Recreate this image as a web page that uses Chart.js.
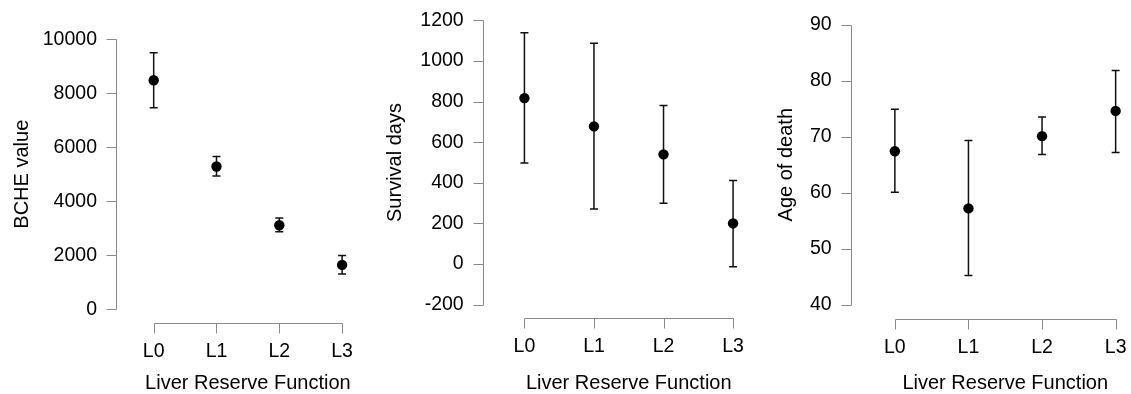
<!DOCTYPE html>
<html>
<head>
<meta charset="utf-8">
<script src="https://cdn.jsdelivr.net/npm/chart.js@4.4.0/dist/chart.umd.min.js"></script>
<style>
  body { margin: 0; background: #fff; overflow: hidden; width: 1131px; height: 394px; position: relative; }
  .panel { position: absolute; top: 0; }
</style>
</head>
<body>
<canvas id="bche" class="panel" width="385" height="394" style="left:0px"></canvas>
<canvas id="survival" class="panel" width="410" height="394" style="left:370px"></canvas>
<canvas id="age" class="panel" width="405" height="394" style="left:760px"></canvas>
<script>
// Liver reserve function groups
const categories = ['L0', 'L1', 'L2', 'L3'];

// BCHE value: mean and error bar ends
const bcheMean = [8480, 5285, 3110, 1640];
const bcheLow = [7460, 4930, 2865, 1300];
const bcheHigh = [9500, 5655, 3380, 1990];
const bcheTicks = [0, 2000, 4000, 6000, 8000, 10000];

// Survival days
const survivalMean = [817, 678, 540, 200];
const survivalLow = [497, 271, 299, -13];
const survivalHigh = [1139, 1087, 781, 412];
const survivalTicks = [-200, 0, 200, 400, 600, 800, 1000, 1200];

// Age of death
const ageMean = [67.4, 57.2, 70.1, 74.6];
const ageLow = [60.1, 45.2, 66.8, 67.2];
const ageHigh = [74.9, 69.3, 73.5, 81.8];
const ageTicks = [40, 50, 60, 70, 80, 90];

const FONT = 'Liberation Sans, Arial, Helvetica, sans-serif';
const AXIS_GREY = '#8a8a8a';

// draws the whiskers under the points
const errorBars = {
    id: 'errorBars',
    beforeDatasetsDraw(chart) {
        const { ctx, scales: { x, y } } = chart;
        const ds = chart.data.datasets[0];
        ctx.save();
        ctx.strokeStyle = '#111';
        ctx.lineWidth = 1.5;
        ds.low.forEach((lo, i) => {
            const px = x.getPixelForValue(i);
            const top = y.getPixelForValue(ds.high[i]);
            const bot = y.getPixelForValue(lo);
            ctx.beginPath();
            ctx.moveTo(px, top); ctx.lineTo(px, bot);
            ctx.moveTo(px - 4, top); ctx.lineTo(px + 4, top);
            ctx.moveTo(px - 4, bot); ctx.lineTo(px + 4, bot);
            ctx.stroke();
        });
        ctx.restore();
    }
};

// R style axes: lines only span first..last tick, ticks point outward
const rAxes = {
    id: 'rAxes',
    afterDraw(chart) {
        const { ctx, chartArea, scales: { x, y } } = chart;
        ctx.save();
        ctx.strokeStyle = AXIS_GREY;
        ctx.lineWidth = 1;
        ctx.beginPath();
        const xl = Math.round(chartArea.left) + 0.5;
        const yp = y.ticks.map(t => Math.round(y.getPixelForValue(t.value)) + 0.5);
        ctx.moveTo(xl, Math.min(...yp)); ctx.lineTo(xl, Math.max(...yp));
        yp.forEach(p => { ctx.moveTo(xl, p); ctx.lineTo(xl - 10, p); });
        const yb = Math.round(chartArea.bottom) + 0.5;
        const xp = x.ticks.map(t => Math.round(x.getPixelForValue(t.value)) + 0.5);
        ctx.moveTo(Math.min(...xp), yb); ctx.lineTo(Math.max(...xp), yb);
        xp.forEach(p => { ctx.moveTo(p, yb); ctx.lineTo(p, yb + 10); });
        ctx.stroke();
        ctx.restore();
    }
};

function makePanel(id, p) {
    const ctx = document.getElementById(id);
    return new Chart(ctx, {
        type: 'scatter',
        data: {
            datasets: [{
                data: p.mean.map((v, i) => ({ x: i, y: v })),
                low: p.low,
                high: p.high,
                pointRadius: 5.2,
                pointBackgroundColor: '#000',
                pointBorderWidth: 0
            }]
        },
        options: {
            responsive: false,
            animation: false,
            events: [],
            layout: { padding: { top: p.top, right: p.right, left: 0, bottom: 0 } },
            plugins: { legend: { display: false }, tooltip: { enabled: false } },
            scales: {
                x: {
                    type: 'linear',
                    min: -0.6,
                    max: 3.6,
                    grid: { display: false },
                    border: { display: false },
                    afterBuildTicks: s => { s.ticks = categories.map((c, i) => ({ value: i })); },
                    afterFit: s => {
                        s.height = 394 - p.bottom;
                        s.paddingLeft = 0;
                        s.paddingRight = 0;
                    },
                    ticks: {
                        padding: 9,
                        color: '#000',
                        font: { family: FONT, size: 19.5 },
                        maxRotation: 0,
                        callback: v => categories[v]
                    },
                    title: {
                        display: true,
                        text: 'Liver Reserve Function',
                        color: '#000',
                        font: { family: FONT, size: 20, lineHeight: 1.1 },
                        padding: { top: 0, bottom: 0 }
                    }
                },
                y: {
                    min: p.min,
                    max: p.max,
                    grid: { display: false },
                    border: { display: false },
                    afterBuildTicks: s => { s.ticks = p.ticks.map(v => ({ value: v })); },
                    afterFit: s => {
                        s.width = p.axisW;
                        s.paddingTop = 0;
                        s.paddingBottom = 0;
                    },
                    ticks: {
                        padding: 11,
                        color: '#000',
                        font: { family: FONT, size: 19.5 },
                        callback: v => String(v)
                    },
                    title: {
                        display: true,
                        text: p.title,
                        color: '#000',
                        font: { family: FONT, size: 20, lineHeight: 1.1 },
                        padding: { top: p.titlePad, bottom: 0 }
                    }
                }
            }
        },
        plugins: [errorBars, rAxes]
    });
}

makePanel('bche', {
    mean: bcheMean, low: bcheLow, high: bcheHigh, ticks: bcheTicks,
    min: -500, max: 10500, top: 25.7, bottom: 322.7, right: 4.4,
    axisW: 116, title: 'BCHE value', titlePad: 11
});
makePanel('survival', {
    mean: survivalMean, low: survivalLow, high: survivalHigh, ticks: survivalTicks,
    min: -267, max: 1267, top: 6.7, bottom: 318.3, right: 5.1,
    axisW: 112.7, title: 'Survival days', titlePad: 14
});
makePanel('age', {
    mean: ageMean, low: ageLow, high: ageHigh, ticks: ageTicks,
    min: 37.4, max: 92.6, top: 10.1, bottom: 319.3, right: 4,
    axisW: 90.7, title: 'Age of death', titlePad: 15.3
});
</script>
</body>
</html>
